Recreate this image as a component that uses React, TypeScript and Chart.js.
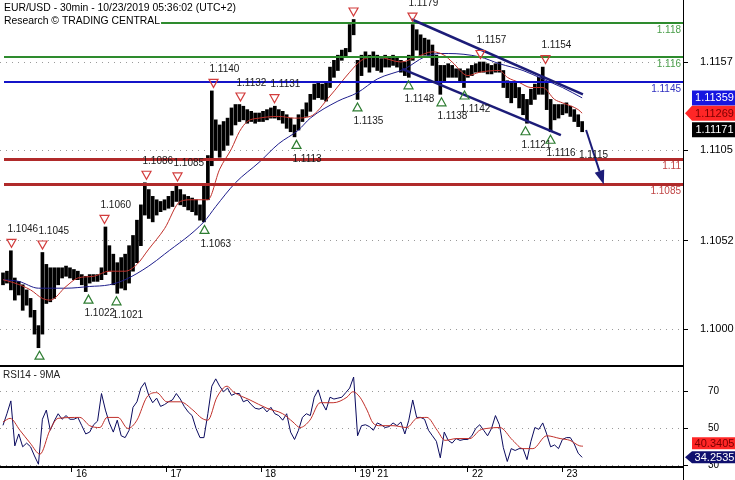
import React, { useEffect, useRef } from 'react';
import { Chart, registerables } from 'chart.js';

Chart.register(...registerables);

const FONT = '"Liberation Sans", Arial, Helvetica, sans-serif';
Chart.defaults.font.family = FONT;

// ---------------- text ----------------
const titleLine1 = 'EUR/USD - 30min - 10/23/2019 05:36:02 (UTC+2)';
const titleLine2 = 'Research \u00A9 TRADING CENTRAL';
const rsiTitle = 'RSI14 - 9MA';

// ---------------- x axis (hours of trading time) ----------------
const X_MIN = -0.76;
const X_MAX = 172.6;
const dayTickPos = [17.5, 41.5, 65.5, 89.5, 94, 118, 142];
const dayTickLabels = ['16', '17', '18', '19', '21', '22', '23'];

// ---------------- price panel ----------------
const PRICE_MIN = 1.097825;
const PRICE_MAX = 1.119346;
const priceTicks = [1.1, 1.1052, 1.1105, 1.1157];

// hourly candles, index 0..147
const candleHigh = [
  1.1033, 1.1034, 1.1046, 1.1030, 1.1028, 1.1026, 1.1023, 1.1018, 1.1011, 1.1002,
  1.1045, 1.1038, 1.1036, 1.1036, 1.1036, 1.1036, 1.1037, 1.1036, 1.1035, 1.1034,
  1.1032, 1.1031, 1.1032, 1.1032, 1.1032, 1.1036, 1.1060, 1.1049, 1.1044, 1.1039,
  1.1042, 1.1044, 1.1049, 1.1055, 1.1064, 1.1073, 1.1086, 1.1082, 1.1078, 1.1076,
  1.1075, 1.1076, 1.1078, 1.1081, 1.1085, 1.1082, 1.1079, 1.1078, 1.1077, 1.1076,
  1.1073, 1.1085, 1.1102, 1.1140, 1.1123, 1.1120, 1.1122, 1.1124, 1.1130, 1.1132,
  1.1132, 1.1131, 1.1129, 1.1128, 1.1127, 1.1127, 1.1128, 1.1129, 1.1130, 1.1131,
  1.1129, 1.1128, 1.1126, 1.1124, 1.1120, 1.1126, 1.1129, 1.1133, 1.1138, 1.1144,
  1.1145, 1.1144, 1.1145, 1.1154, 1.1158, 1.1161, 1.1164, 1.1165, 1.1179, 1.1182,
  1.1158, 1.1161, 1.1163, 1.1161, 1.1163, 1.1161, 1.1159, 1.1161, 1.1160, 1.1161,
  1.1160, 1.1158, 1.1157, 1.1161, 1.1179, 1.1176, 1.1173, 1.1171, 1.1170, 1.1167,
  1.1161, 1.1155, 1.1155, 1.1156, 1.1155, 1.1153, 1.1153, 1.1152, 1.1153, 1.1155,
  1.1156, 1.1157, 1.1157, 1.1156, 1.1155, 1.1156, 1.1157, 1.1152, 1.1146, 1.1145,
  1.1145, 1.1142, 1.1138, 1.1135, 1.1141, 1.1144, 1.1148, 1.1154, 1.1145, 1.1135,
  1.1132, 1.1132, 1.1132, 1.1133, 1.1131, 1.1129, 1.1126, 1.1122,
];
const candleLow = [
  1.1026, 1.1027, 1.1023, 1.1017, 1.1020, 1.1011, 1.1014, 1.1007, 1.0997, 1.0989,
  1.0997, 1.1015, 1.1016, 1.1018, 1.1026, 1.1030, 1.1031, 1.1030, 1.1029, 1.1029,
  1.1026, 1.1022, 1.1027, 1.1028, 1.1028, 1.1029, 1.1032, 1.1034, 1.1026, 1.1021,
  1.1024, 1.1023, 1.1027, 1.1034, 1.1039, 1.1049, 1.1067, 1.1065, 1.1063, 1.1067,
  1.1069, 1.1070, 1.1071, 1.1072, 1.1075, 1.1073, 1.1072, 1.1070, 1.1069, 1.1067,
  1.1064, 1.1063, 1.1076, 1.1096, 1.1105, 1.1101, 1.1105, 1.1108, 1.1114, 1.1120,
  1.1122, 1.1123, 1.1121, 1.1122, 1.1121, 1.1122, 1.1122, 1.1123, 1.1124, 1.1124,
  1.1123, 1.1121, 1.1118, 1.1116, 1.1113, 1.1117, 1.1122, 1.1125, 1.1128, 1.1135,
  1.1136, 1.1135, 1.1134, 1.1142, 1.1148, 1.1152, 1.1158, 1.1160, 1.1163, 1.1173,
  1.1135, 1.1149, 1.1154, 1.1151, 1.1154, 1.1152, 1.1151, 1.1154, 1.1154, 1.1155,
  1.1154, 1.1151, 1.1149, 1.1148, 1.1158, 1.1164, 1.1161, 1.1161, 1.1161, 1.1155,
  1.1146, 1.1138, 1.1146, 1.1148, 1.1148, 1.1148, 1.1146, 1.1142, 1.1148, 1.1149,
  1.1151, 1.1151, 1.1151, 1.1150, 1.1150, 1.1151, 1.1151, 1.1142, 1.1136, 1.1133,
  1.1136, 1.1130, 1.1126, 1.1121, 1.1132, 1.1135, 1.1138, 1.1138, 1.1129, 1.1116,
  1.1123, 1.1124, 1.1126, 1.1127, 1.1125, 1.1122, 1.1119, 1.1116,
];

// moving averages (sampled along the curve)
const fastMaPos = [0, 3, 7, 10, 12, 16, 19, 23, 27, 31, 34, 37, 41, 45, 48, 52, 55, 58, 60, 62, 65, 70, 74, 78, 83, 88, 91, 95, 101, 105, 109, 112, 114, 118, 121, 126, 128, 131, 134, 137, 140, 142, 146, 147];
const fastMaVal = [1.1029, 1.1027, 1.1023, 1.1018, 1.1017, 1.1025, 1.1030, 1.1031, 1.1034, 1.1034, 1.1038, 1.1047, 1.1059, 1.1075, 1.1076, 1.1076, 1.1094, 1.1106, 1.1116, 1.1122, 1.1124, 1.1125, 1.1124, 1.1125, 1.1137, 1.1151, 1.1158, 1.1160, 1.1157, 1.1160, 1.1163, 1.1161, 1.1157, 1.1149, 1.1151, 1.1152, 1.1148, 1.1145, 1.1142, 1.1142, 1.1135, 1.1133, 1.1129, 1.11269];
const slowMaPos = [0, 4, 9, 16, 22, 27, 31, 37, 41, 51, 54, 59, 65, 70, 75, 78, 85, 90, 95, 102, 107, 111, 113, 121, 126, 132, 137, 142, 147];
const slowMaVal = [1.1029, 1.1028, 1.1024, 1.1024, 1.1025, 1.1026, 1.1029, 1.1037, 1.1044, 1.1063, 1.1072, 1.1086, 1.1098, 1.1109, 1.1117, 1.1124, 1.1134, 1.1139, 1.1147, 1.1153, 1.1160, 1.1162, 1.1162, 1.1160, 1.1156, 1.1152, 1.1147, 1.1142, 1.11359];

const slowMaLast = 1.11359;
const fastMaLast = 1.11269;
const closeLast = 1.11171;

// key levels
const levelValues = [1.118, 1.116, 1.1145, 1.11, 1.1085];
const levelLabels = ['1.118', '1.116', '1.1145', '1.11', '1.1085'];

// pivots
const resistPos = [2, 10, 25.6, 36.3, 44.2, 53.3, 60.2, 68.8, 88.8, 103.8, 121.1, 137.6];
const resistVal = [1.1046, 1.1045, 1.1060, 1.1086, 1.1085, 1.1140, 1.1132, 1.1131, 1.1182, 1.1179, 1.1157, 1.1154];
const supportPos = [9.1, 21.6, 28.7, 51, 74.4, 89.9, 102.8, 111.2, 117, 132.5, 138.8];
const supportVal = [1.0989, 1.1022, 1.1021, 1.1063, 1.1113, 1.1135, 1.1148, 1.1138, 1.1142, 1.1121, 1.1116];
const targetPos = [149.9];
const targetVal = [1.1115];

// channel + forecast arrow
const channelUpperPos = [103.8, 147.2];
const channelUpperVal = [1.1182, 1.1138];
const channelLowerPos = [101.3, 141.6];
const channelLowerVal = [1.1153, 1.1114];
const arrowPos = [148, 152.5];
const arrowVal = [1.1117, 1.1085];

// ---------------- RSI panel ----------------
const RSI_MIN = 29;
const RSI_MAX = 84;
const rsiTicks = [30, 50, 70];
const rsiValues = [
  51.7, 58, 65, 40.5, 47, 40, 42, 40, 35, 30.5,
  55, 60, 49, 54, 58, 55, 57, 55, 55, 56,
  51.5, 47, 48, 52, 54, 69, 60, 53, 48, 54.5,
  46, 45, 49, 61.5, 64.5, 72, 75, 68, 64, 66.5,
  62, 63, 64.5, 65.5, 69, 66, 62, 59, 57, 50,
  45, 45, 58, 73, 77, 73, 70, 72, 68, 69,
  69, 64.5, 65.5, 63, 61, 60.5, 61.5, 59, 61.5, 58,
  57, 54.5, 58, 48, 44, 49, 56, 58, 57, 67,
  71, 64, 60, 67, 66, 66.5, 67, 69.5, 72, 78,
  46, 51.5, 52, 51, 49, 53, 52, 50.5, 51, 53,
  51.5, 53.5, 47, 54.5, 65.5, 56, 56, 55, 49, 46,
  43, 34, 48, 43.5, 42, 44.5, 43.5, 44, 44, 46,
  50, 52, 49, 46, 50, 57, 52, 39.5, 32, 39,
  38, 39, 39, 33, 43, 50.5, 49.5, 53, 47, 40,
  41, 39, 44, 45, 45, 41.5, 36.5, 34.2535,
];
const rsiMaPos = [0, 1.8, 4.3, 6.9, 9.4, 11.9, 14, 19.5, 22, 24.6, 26.4, 29.2, 31.7, 34, 36.5, 39, 41.6, 45, 48.2, 50.5, 52, 54.3, 56.9, 58.4, 62.7, 67, 71, 73.6, 75.4, 77.9, 80.5, 83.8, 87.3, 88.8, 90.6, 92.4, 93.9, 95.7, 99, 102.5, 105, 107.6, 110.2, 112.2, 115.2, 118.5, 121, 122.8, 126.1, 129.4, 132, 134.5, 138, 141.4, 143.9, 146.4, 147.2];
const rsiMaVal = [53.5, 55.5, 49, 42, 36, 49, 55.5, 56, 51.5, 50.5, 56, 56, 50, 54.5, 67, 69.5, 64.5, 64.5, 60, 55.5, 54.5, 67, 73, 70, 65.5, 61, 58, 53.5, 50.5, 54.5, 64, 64, 67, 70, 67, 60, 53, 51.5, 51.5, 50.5, 55.5, 56, 49, 43.5, 44.5, 44.5, 49, 50, 50.5, 43.5, 39, 39, 46, 44.5, 43.5, 40.5, 40.3405];
const rsiLast = 34.2535;
const rsiMaLast = 40.3405;

// ---------------- styles ----------------
const LEVEL_STYLE = [
  { line: '#2e8b2e', text: '#4a9e4a', w: 2 },
  { line: '#2e8b2e', text: '#4a9e4a', w: 2 },
  { line: '#1414c8', text: '#3030c0', w: 2 },
  { line: '#b02a2a', text: '#c04545', w: 3 },
  { line: '#b02a2a', text: '#c04545', w: 3 },
];
const NAVY = '#1c1c78';

function drawTag(ctx: any, right: number, cy: number, text: string, fill: string, color: string, pointer: boolean, h: number) {
  const x0 = right + 9;
  const x1 = right + 52;
  ctx.beginPath();
  if (pointer) {
    ctx.moveTo(right + 2, cy);
    ctx.lineTo(x0, cy - h / 2);
  } else {
    ctx.moveTo(x0, cy - h / 2);
  }
  ctx.lineTo(x1, cy - h / 2);
  ctx.lineTo(x1, cy + h / 2);
  ctx.lineTo(x0, cy + h / 2);
  ctx.closePath();
  ctx.fillStyle = fill;
  ctx.fill();
  ctx.fillStyle = color;
  ctx.font = `11px ${FONT}`;
  ctx.textAlign = 'center';
  ctx.textBaseline = 'middle';
  ctx.fillText(text, (x0 + x1) / 2 + 1, cy + 0.5);
}

const mainOverlay = {
  id: 'mainOverlay',
  afterDatasetsDraw(chart: any) {
    const { ctx, chartArea: ca } = chart;
    const xs = chart.scales.x;
    const ys = chart.scales.y;
    const X = (v: number) => xs.getPixelForValue(v);
    const Y = (v: number) => ys.getPixelForValue(v);
    ctx.save();
    ctx.beginPath();
    ctx.rect(ca.left, ca.top, ca.right - ca.left, ca.bottom - ca.top);
    ctx.clip();

    // horizontal levels
    levelValues.forEach((v, k) => {
      const st = LEVEL_STYLE[k];
      const y = Math.round(Y(v));
      ctx.fillStyle = st.line;
      ctx.fillRect(ca.left + 4, y - Math.floor(st.w / 2), ca.right - ca.left - 4, st.w);
      ctx.fillStyle = st.text;
      ctx.font = `10px ${FONT}`;
      ctx.textAlign = 'right';
      ctx.textBaseline = 'middle';
      ctx.fillText(levelLabels[k], ca.right - 2, y + 7);
    });

    // channel
    ctx.strokeStyle = NAVY;
    ctx.lineWidth = 2.5;
    const chans: [number[], number[]][] = [[channelUpperPos, channelUpperVal], [channelLowerPos, channelLowerVal]];
    chans.forEach(([p, v]) => {
      ctx.beginPath();
      ctx.moveTo(X(p[0]), Y(v[0]));
      ctx.lineTo(X(p[1]), Y(v[1]));
      ctx.stroke();
    });

    // arrow
    const ax0 = X(arrowPos[0]), ay0 = Y(arrowVal[0]);
    const ax1 = X(arrowPos[1]), ay1 = Y(arrowVal[1]);
    const dx = ax1 - ax0, dy = ay1 - ay0;
    const len = Math.hypot(dx, dy);
    const ux = dx / len, uy = dy / len;
    const hl = 14, hw = 5;
    ctx.lineWidth = 2;
    ctx.beginPath();
    ctx.moveTo(ax0, ay0);
    ctx.lineTo(ax1 - ux * hl, ay1 - uy * hl);
    ctx.stroke();
    ctx.fillStyle = NAVY;
    ctx.beginPath();
    ctx.moveTo(ax1, ay1);
    ctx.lineTo(ax1 - ux * hl - uy * hw, ay1 - uy * hl + ux * hw);
    ctx.lineTo(ax1 - ux * hl + uy * hw, ay1 - uy * hl - ux * hw);
    ctx.closePath();
    ctx.fill();

    // pivots
    ctx.lineWidth = 1.2;
    ctx.font = `10px ${FONT}`;
    ctx.textAlign = 'left';
    ctx.textBaseline = 'middle';
    resistPos.forEach((p, k) => {
      const px = Math.round(X(p)) + 0.5, py = Y(resistVal[k]);
      ctx.beginPath();
      ctx.moveTo(px - 4.5, py - 11.5);
      ctx.lineTo(px + 4.5, py - 11.5);
      ctx.lineTo(px, py - 3.5);
      ctx.closePath();
      ctx.strokeStyle = '#d23c3c';
      ctx.stroke();
      const ly = py - 21.5;
      if (ly > ca.top) {
        ctx.fillStyle = '#1a1a1a';
        ctx.fillText(resistVal[k].toFixed(4), px - 4, ly);
      }
    });
    supportPos.forEach((p, k) => {
      const px = Math.round(X(p)) + 0.5, py = Y(supportVal[k]);
      ctx.beginPath();
      ctx.moveTo(px - 4.5, py + 11.5);
      ctx.lineTo(px + 4.5, py + 11.5);
      ctx.lineTo(px, py + 3.5);
      ctx.closePath();
      ctx.strokeStyle = '#2e7d32';
      ctx.stroke();
      const ly = py + 22;
      if (ly < ca.bottom - 4) {
        ctx.fillStyle = '#1a1a1a';
        ctx.fillText(supportVal[k].toFixed(4), px - 4, ly);
      }
    });
    targetPos.forEach((p, k) => {
      const px = X(p), py = Y(targetVal[k]);
      ctx.fillStyle = '#1a1a1a';
      ctx.textAlign = 'center';
      ctx.fillText(targetVal[k].toFixed(4), px, py + 22);
    });
    ctx.restore();
  },
  afterDraw(chart: any) {
    const { ctx, chartArea: ca } = chart;
    const ys = chart.scales.y;
    ctx.save();
    ctx.font = `10.4px ${FONT}`;
    ctx.textAlign = 'left';
    ctx.textBaseline = 'alphabetic';
    [titleLine1, titleLine2].forEach((t, k) => {
      const w = ctx.measureText(t).width;
      const base = 11 + k * 12.5;
      ctx.fillStyle = '#fff';
      ctx.fillRect(ca.left, base - 10, w + 5, 13);
      ctx.fillStyle = '#000';
      ctx.fillText(t, ca.left + 4, base);
    });
    drawTag(ctx, ca.right, ys.getPixelForValue(slowMaLast), slowMaLast.toFixed(5), '#1616e0', '#ffffff', false, 15);
    drawTag(ctx, ca.right, ys.getPixelForValue(fastMaLast), fastMaLast.toFixed(5), '#ff2626', '#7a0000', true, 15);
    drawTag(ctx, ca.right, ys.getPixelForValue(closeLast), closeLast.toFixed(5), '#000000', '#ffffff', false, 15);
    ctx.fillStyle = '#000';
    ctx.fillRect(0, chart.height - 1, ca.right, 1);
    ctx.restore();
  },
};

const rsiOverlay = {
  id: 'rsiOverlay',
  afterDraw(chart: any) {
    const { ctx, chartArea: ca } = chart;
    const ys = chart.scales.y;
    ctx.save();
    ctx.fillStyle = '#000';
    ctx.fillRect(0, 0, ca.right, 1);
    ctx.fillRect(Math.floor(ca.right), ca.bottom, 1, chart.height - ca.bottom);
    ctx.font = `10px ${FONT}`;
    ctx.textAlign = 'left';
    ctx.textBaseline = 'alphabetic';
    ctx.fillStyle = '#222';
    ctx.fillText(rsiTitle, 3, 11.5);
    let cRsi = ys.getPixelForValue(rsiLast);
    let cMa = ys.getPixelForValue(rsiMaLast);
    const gap = 14;
    if (Math.abs(cRsi - cMa) < gap) {
      if (cMa <= cRsi) cMa = cRsi - gap; else cRsi = cMa - gap;
    }
    drawTag(ctx, ca.right, cMa, rsiMaLast.toFixed(4), '#ff2626', '#7a0000', false, 12);
    drawTag(ctx, ca.right, cRsi, rsiLast.toFixed(4), '#10106e', '#ffffff', true, 12);
    ctx.restore();
  },
};

export default function App() {
  const mainRef = useRef<HTMLCanvasElement>(null);
  const rsiRef = useRef<HTMLCanvasElement>(null);

  useEffect(() => {
    const candles = candleHigh.map((h, i) => ({ x: i, y: [candleLow[i], h] }));
    const fastMa = fastMaPos.map((x, k) => ({ x, y: fastMaVal[k] }));
    const slowMa = slowMaPos.map((x, k) => ({ x, y: slowMaVal[k] }));

    const main = new Chart(mainRef.current as HTMLCanvasElement, {
      type: 'bar',
      data: {
        datasets: [
          { type: 'line', data: fastMa, borderColor: '#c0302a', borderWidth: 1, pointRadius: 0, cubicInterpolationMode: 'monotone', order: 1 } as any,
          { type: 'line', data: slowMa, borderColor: '#1e1e8c', borderWidth: 1, pointRadius: 0, cubicInterpolationMode: 'monotone', order: 2 } as any,
          { type: 'bar', data: candles, backgroundColor: '#000', barThickness: 3, order: 3 } as any,
        ],
      },
      options: {
        responsive: false,
        animation: false,
        devicePixelRatio: 1,
        events: [],
        layout: { padding: 0 },
        plugins: { legend: { display: false }, tooltip: { enabled: false } },
        scales: {
          x: { type: 'linear', display: false, min: X_MIN, max: X_MAX, offset: false, grid: { offset: false } },
          y: {
            type: 'linear',
            position: 'right',
            min: PRICE_MIN,
            max: PRICE_MAX,
            beginAtZero: false,
            afterBuildTicks: (s: any) => { s.ticks = priceTicks.map((v) => ({ value: v })); },
            afterFit: (s: any) => { s.width = 52; s.paddingTop = 0; s.paddingBottom = 0; },
            ticks: { callback: (v: any) => Number(v).toFixed(4), color: '#000', font: { size: 11, family: FONT }, padding: 12 },
            grid: { color: '#9a9a9a', tickColor: '#000', tickLength: 5, lineWidth: 1 },
            border: { display: true, color: '#000', width: 1, dash: [1, 5] },
          },
        },
      } as any,
      plugins: [mainOverlay],
    });

    const rsiPts = rsiValues.map((y, i) => ({ x: i, y }));
    const rsiMa = rsiMaPos.map((x, k) => ({ x, y: rsiMaVal[k] }));
    const rsi = new Chart(rsiRef.current as HTMLCanvasElement, {
      type: 'line',
      data: {
        datasets: [
          { data: rsiPts, borderColor: '#0a0a5e', borderWidth: 1, pointRadius: 0, tension: 0, order: 2 },
          { data: rsiMa, borderColor: '#c0302a', borderWidth: 1, pointRadius: 0, cubicInterpolationMode: 'monotone', order: 1 },
        ],
      },
      options: {
        responsive: false,
        animation: false,
        devicePixelRatio: 1,
        events: [],
        layout: { padding: 0 },
        plugins: { legend: { display: false }, tooltip: { enabled: false } },
        scales: {
          x: {
            type: 'linear',
            position: 'bottom',
            min: X_MIN,
            max: X_MAX,
            offset: false,
            afterBuildTicks: (s: any) => { s.ticks = dayTickPos.map((v) => ({ value: v })); },
            afterFit: (s: any) => { s.height = 13; s.paddingLeft = 0; s.paddingRight = 0; },
            ticks: {
              autoSkip: false,
              maxRotation: 0,
              minRotation: 0,
              align: 'start',
              labelOffset: 4,
              padding: -4,
              color: '#000',
              font: { size: 10, family: FONT },
              callback: (_v: any, idx: number) => dayTickLabels[idx],
            },
            grid: { drawOnChartArea: false, drawTicks: true, tickLength: 5, tickColor: '#000', offset: false },
            border: { display: true, color: '#000', width: 2 },
          },
          y: {
            type: 'linear',
            position: 'right',
            min: RSI_MIN,
            max: RSI_MAX,
            afterBuildTicks: (s: any) => { s.ticks = rsiTicks.map((v) => ({ value: v })); },
            afterFit: (s: any) => { s.width = 52; s.paddingTop = 0; s.paddingBottom = 0; },
            ticks: { color: '#000', font: { size: 10, family: FONT }, padding: 20 },
            grid: { color: '#9a9a9a', tickColor: '#000', tickLength: 5, lineWidth: 1 },
            border: { display: true, color: '#000', width: 1, dash: [1, 5] },
          },
        },
      } as any,
      plugins: [rsiOverlay],
    });

    return () => {
      main.destroy();
      rsi.destroy();
    };
  }, []);

  return (
    <div style={{ position: 'fixed', left: 0, top: 0, width: 735, height: 480, background: '#fff' }}>
      <div style={{ position: 'absolute', left: 0, top: 0, width: 735, height: 366 }}>
        <canvas ref={mainRef} width={735} height={366} style={{ display: 'block' }} />
      </div>
      <div style={{ position: 'absolute', left: 0, top: 366, width: 735, height: 114 }}>
        <canvas ref={rsiRef} width={735} height={114} style={{ display: 'block' }} />
      </div>
    </div>
  );
}
